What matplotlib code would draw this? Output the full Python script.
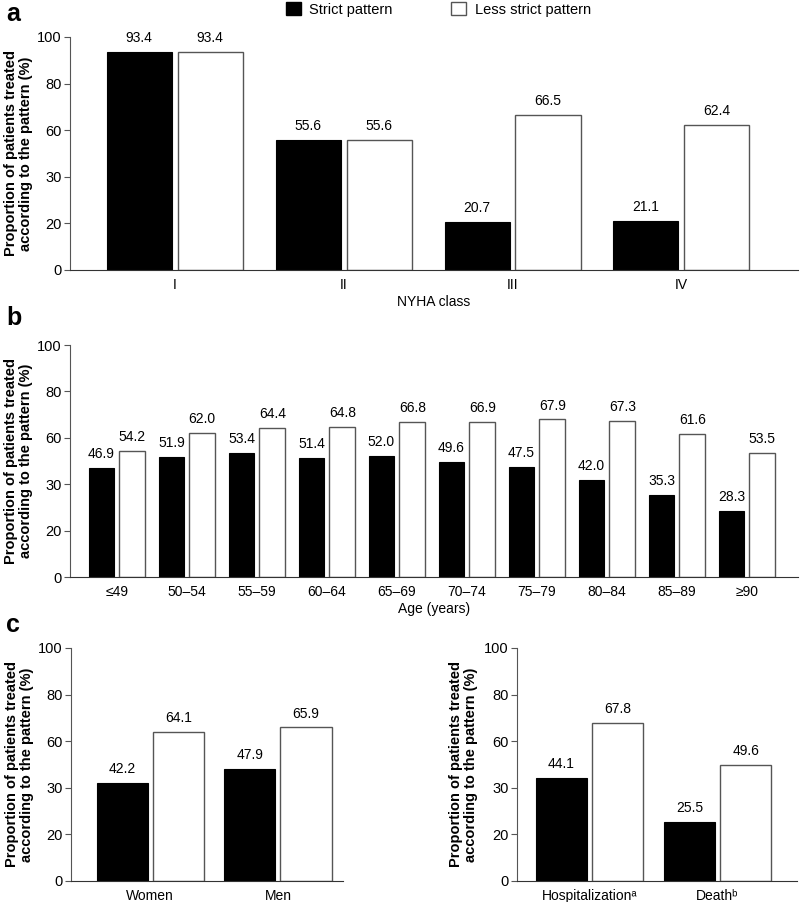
import numpy as np
import matplotlib
matplotlib.use('Agg')
import matplotlib.pyplot as plt
from matplotlib.patches import Patch

plt.rcParams['font.family'] = ['Liberation Sans', 'DejaVu Sans']
plt.rcParams['font.size'] = 10

# data
nyha_classes = ['I', 'II', 'III', 'IV']
nyha_strict = [93.4, 55.6, 20.7, 21.1]
nyha_less = [93.4, 55.6, 66.5, 62.4]

age_groups = ['≤49', '50–54', '55–59', '60–64', '65–69', '70–74', '75–79', '80–84', '85–89', '≥90']
age_strict = [46.9, 51.9, 53.4, 51.4, 52.0, 49.6, 47.5, 42.0, 35.3, 28.3]
age_less = [54.2, 62.0, 64.4, 64.8, 66.8, 66.9, 67.9, 67.3, 61.6, 53.5]

sex_groups = ['Women', 'Men']
sex_strict = [42.2, 47.9]
sex_less = [64.1, 65.9]

event_groups = ['Hospitalization\u1d43', 'Death\u1d47']
event_strict = [44.1, 25.5]
event_less = [67.8, 49.6]

# tick labels as printed in the figure
ytick_pos = [0, 20, 40, 60, 80, 100]
ytick_labels = ['0', '20', '30', '60', '80', '100']

ylabel = 'Proportion of patients treated\naccording to the pattern (%)'
spine_col = '#555555'
FIG_W = 800


def draw_panel(ax, cats, strict, less, width, offset, xlim, xlabel=None, ylab_px=-37):
    x = np.arange(len(cats))
    b1 = ax.bar(x - offset, strict, width, color='black', edgecolor='black', linewidth=0.8)
    b2 = ax.bar(x + offset, less, width, color='white', edgecolor='#555555', linewidth=1.0)
    ax.bar_label(b1, fmt='%.1f', padding=5, fontsize=10)
    ax.bar_label(b2, fmt='%.1f', padding=5, fontsize=10)
    ax.set_xticks(x)
    ax.set_xticklabels(cats, fontsize=10)
    ax.tick_params(axis='x', length=0, pad=6)
    ax.set_xlim(*xlim)
    ax.set_ylim(0, 100)
    ax.set_yticks(ytick_pos)
    ax.set_yticklabels(ytick_labels, fontsize=10.5)
    ax.tick_params(axis='y', length=4, color=spine_col, pad=2)
    ax.spines['top'].set_visible(False)
    ax.spines['right'].set_visible(False)
    ax.spines['left'].set_color(spine_col)
    ax.spines['bottom'].set_color('#333333')
    ax.set_ylabel(ylabel, fontweight='bold', fontsize=10.5, linespacing=1.1)
    # place the label a fixed number of pixels left of the axis
    w_px = ax.get_position().width * FIG_W
    ax.yaxis.set_label_coords(ylab_px / w_px, 0.5)
    if xlabel:
        ax.set_xlabel(xlabel, fontsize=10, labelpad=2)


fig = plt.figure(figsize=(8, 9.02), dpi=100)

ax_a = fig.add_axes([0.0875, 0.7007, 0.91, 0.2583])
draw_panel(ax_a, nyha_classes, nyha_strict, nyha_less, 0.385, 0.21, (-0.62, 3.69), 'NYHA class')

ax_b = fig.add_axes([0.0875, 0.3603, 0.91, 0.2572])
draw_panel(ax_b, age_groups, age_strict, age_less, 0.37, 0.22, (-0.67, 9.73), 'Age (years)')

ax_c1 = fig.add_axes([0.0888, 0.0233, 0.34, 0.2583])
draw_panel(ax_c1, sex_groups, sex_strict, sex_less, 0.40, 0.22, (-0.62, 1.51))

ax_c2 = fig.add_axes([0.646, 0.0233, 0.35, 0.2583])
draw_panel(ax_c2, event_groups, event_strict, event_less, 0.40, 0.22, (-0.57, 1.62), ylab_px=-39)

# panel letters
fig.text(0.008, 0.985, 'a', fontsize=18, fontweight='bold', va='center')
fig.text(0.008, 0.647, 'b', fontsize=18, fontweight='bold', va='center')
fig.text(0.008, 0.307, 'c', fontsize=18, fontweight='bold', va='center')

# legend
handles = [Patch(facecolor='black', edgecolor='black', label='Strict pattern'),
           Patch(facecolor='white', edgecolor='#555555', label='Less strict pattern')]
fig.legend(handles=handles, loc='upper center', bbox_to_anchor=(0.548, 1.012), ncol=2,
           frameon=False, handlelength=1.0, handleheight=1.0, handletextpad=0.6,
           columnspacing=4.0, fontsize=10.5)

fig.savefig('out.png', dpi=100)
